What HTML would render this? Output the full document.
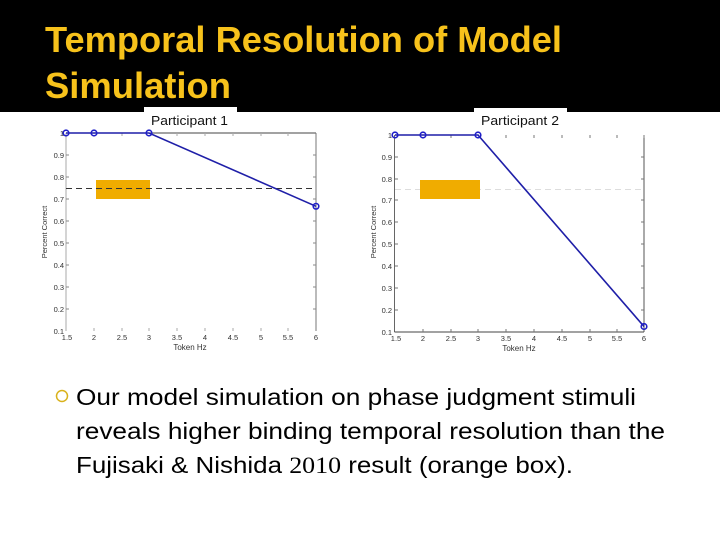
<!DOCTYPE html>
<html>
<head>
<meta charset="utf-8">
<style>
html,body{margin:0;padding:0;background:#fff;}
svg{display:block;}
</style>
</head>
<body>
<svg width="720" height="540" viewBox="0 0 720 540" xmlns="http://www.w3.org/2000/svg">
  <rect x="0" y="0" width="720" height="540" fill="#ffffff"/>
  <!-- header band -->
  <rect x="0" y="0" width="720" height="112" fill="#000000"/>
  <text x="45" y="52" font-family="Liberation Sans, sans-serif" font-weight="bold" font-size="36" fill="#F7C21B" textLength="517" lengthAdjust="spacingAndGlyphs">Temporal Resolution of Model</text>
  <text x="45" y="98" font-family="Liberation Sans, sans-serif" font-weight="bold" font-size="36" fill="#F7C21B" textLength="186" lengthAdjust="spacingAndGlyphs">Simulation</text>

  <!-- title boxes -->
  <rect x="144" y="107" width="93" height="22" fill="#ffffff"/>
  <text x="151" y="125" font-family="Liberation Sans, sans-serif" font-size="12.5" fill="#111" textLength="77" lengthAdjust="spacingAndGlyphs">Participant 1</text>
  <rect x="474" y="108" width="93" height="22" fill="#ffffff"/>
  <text x="481" y="125" font-family="Liberation Sans, sans-serif" font-size="12.5" fill="#111" textLength="78" lengthAdjust="spacingAndGlyphs">Participant 2</text>

  <!-- ================= CHART 1 ================= -->
  <g font-family="Liberation Sans, sans-serif" font-size="7.5" fill="#333">
    <!-- frame -->
    <line x1="66" y1="133" x2="66" y2="331" stroke="#aaa" stroke-width="1"/>
    <line x1="66" y1="133" x2="316" y2="133" stroke="#444" stroke-width="1"/>
    <line x1="316" y1="133" x2="316" y2="331" stroke="#777" stroke-width="1"/>
    <!-- y ticks -->
    <g stroke="#888" stroke-width="1">
      <line x1="66" y1="155" x2="69" y2="155"/><line x1="313" y1="155" x2="316" y2="155"/>
      <line x1="66" y1="177" x2="69" y2="177"/><line x1="313" y1="177" x2="316" y2="177"/>
      <line x1="66" y1="199" x2="69" y2="199"/><line x1="313" y1="199" x2="316" y2="199"/>
      <line x1="66" y1="221" x2="69" y2="221"/><line x1="313" y1="221" x2="316" y2="221"/>
      <line x1="66" y1="243" x2="69" y2="243"/><line x1="313" y1="243" x2="316" y2="243"/>
      <line x1="66" y1="265" x2="69" y2="265"/><line x1="313" y1="265" x2="316" y2="265"/>
      <line x1="66" y1="287" x2="69" y2="287"/><line x1="313" y1="287" x2="316" y2="287"/>
      <line x1="66" y1="309" x2="69" y2="309"/><line x1="313" y1="309" x2="316" y2="309"/>
    </g>
    <!-- x ticks (bottom, top) -->
    <g stroke="#aaa" stroke-width="1">
      <line x1="94" y1="328" x2="94" y2="331"/><line x1="122" y1="328" x2="122" y2="331"/>
      <line x1="149" y1="328" x2="149" y2="331"/><line x1="177" y1="328" x2="177" y2="331"/>
      <line x1="205" y1="328" x2="205" y2="331"/><line x1="233" y1="328" x2="233" y2="331"/>
      <line x1="261" y1="328" x2="261" y2="331"/><line x1="288" y1="328" x2="288" y2="331"/>
      <line x1="122" y1="133" x2="122" y2="136"/><line x1="177" y1="133" x2="177" y2="136"/>
      <line x1="205" y1="133" x2="205" y2="136"/><line x1="233" y1="133" x2="233" y2="136"/>
      <line x1="261" y1="133" x2="261" y2="136"/><line x1="288" y1="133" x2="288" y2="136"/>
    </g>
    <!-- y labels -->
    <g text-anchor="end">
      <text x="64" y="136">1</text>
      <text x="64" y="158">0.9</text>
      <text x="64" y="180">0.8</text>
      <text x="64" y="202">0.7</text>
      <text x="64" y="224">0.6</text>
      <text x="64" y="246">0.5</text>
      <text x="64" y="268">0.4</text>
      <text x="64" y="290">0.3</text>
      <text x="64" y="312">0.2</text>
      <text x="64" y="334">0.1</text>
    </g>
    <!-- x labels -->
    <g text-anchor="middle">
      <text x="67" y="340">1.5</text>
      <text x="94" y="340">2</text>
      <text x="122" y="340">2.5</text>
      <text x="149" y="340">3</text>
      <text x="177" y="340">3.5</text>
      <text x="205" y="340">4</text>
      <text x="233" y="340">4.5</text>
      <text x="261" y="340">5</text>
      <text x="288" y="340">5.5</text>
      <text x="316" y="340">6</text>
    </g>
    <text x="190" y="350" text-anchor="middle" font-size="8">Token Hz</text>
    <text x="0" y="0" text-anchor="middle" font-size="7.5" transform="translate(47,232) rotate(-90)">Percent Correct</text>
    <!-- orange box & dashed line -->
    <rect x="96" y="180" width="54" height="19" fill="#F0AC00"/>
    <line x1="66" y1="188.5" x2="316" y2="188.5" stroke="#333" stroke-width="1" stroke-dasharray="6,4"/>
    <!-- series -->
    <polyline points="66,133 94,133 149,133 316,206.3" fill="none" stroke="#1f1fa8" stroke-width="1.6"/>
    <g fill="none" stroke="#2020c8" stroke-width="1.6">
      <circle cx="66" cy="133" r="2.8"/>
      <circle cx="94" cy="133" r="2.8"/>
      <circle cx="149" cy="133" r="2.8"/>
      <circle cx="316" cy="206.3" r="2.8"/>
    </g>
  </g>

  <!-- ================= CHART 2 ================= -->
  <g font-family="Liberation Sans, sans-serif" font-size="7.5" fill="#333">
    <line x1="394.5" y1="135" x2="394.5" y2="332" stroke="#666" stroke-width="1"/>
    <line x1="394.5" y1="332" x2="644" y2="332" stroke="#444" stroke-width="1"/>
    <line x1="644" y1="135" x2="644" y2="332" stroke="#555" stroke-width="1"/>
    <g stroke="#777" stroke-width="1">
      <line x1="395" y1="157" x2="398" y2="157"/><line x1="641" y1="157" x2="644" y2="157"/>
      <line x1="395" y1="179" x2="398" y2="179"/><line x1="641" y1="179" x2="644" y2="179"/>
      <line x1="395" y1="200" x2="398" y2="200"/><line x1="641" y1="200" x2="644" y2="200"/>
      <line x1="395" y1="222" x2="398" y2="222"/><line x1="641" y1="222" x2="644" y2="222"/>
      <line x1="395" y1="244" x2="398" y2="244"/><line x1="641" y1="244" x2="644" y2="244"/>
      <line x1="395" y1="266" x2="398" y2="266"/><line x1="641" y1="266" x2="644" y2="266"/>
      <line x1="395" y1="288" x2="398" y2="288"/><line x1="641" y1="288" x2="644" y2="288"/>
      <line x1="395" y1="310" x2="398" y2="310"/><line x1="641" y1="310" x2="644" y2="310"/>
    </g>
    <g stroke="#777" stroke-width="1">
      <line x1="423" y1="329" x2="423" y2="332"/><line x1="451" y1="329" x2="451" y2="332"/>
      <line x1="478" y1="329" x2="478" y2="332"/><line x1="506" y1="329" x2="506" y2="332"/>
      <line x1="534" y1="329" x2="534" y2="332"/><line x1="562" y1="329" x2="562" y2="332"/>
      <line x1="590" y1="329" x2="590" y2="332"/><line x1="617" y1="329" x2="617" y2="332"/>
      <line x1="451" y1="135" x2="451" y2="138"/><line x1="506" y1="135" x2="506" y2="138"/>
      <line x1="534" y1="135" x2="534" y2="138"/><line x1="562" y1="135" x2="562" y2="138"/>
      <line x1="590" y1="135" x2="590" y2="138"/><line x1="617" y1="135" x2="617" y2="138"/>
      <line x1="644" y1="135" x2="644" y2="138"/>
    </g>
    <g text-anchor="end">
      <text x="392" y="138">1</text>
      <text x="392" y="160">0.9</text>
      <text x="392" y="182">0.8</text>
      <text x="392" y="203">0.7</text>
      <text x="392" y="225">0.6</text>
      <text x="392" y="247">0.5</text>
      <text x="392" y="269">0.4</text>
      <text x="392" y="291">0.3</text>
      <text x="392" y="313">0.2</text>
      <text x="392" y="335">0.1</text>
    </g>
    <g text-anchor="middle">
      <text x="396" y="341">1.5</text>
      <text x="423" y="341">2</text>
      <text x="451" y="341">2.5</text>
      <text x="478" y="341">3</text>
      <text x="506" y="341">3.5</text>
      <text x="534" y="341">4</text>
      <text x="562" y="341">4.5</text>
      <text x="590" y="341">5</text>
      <text x="617" y="341">5.5</text>
      <text x="644" y="341">6</text>
    </g>
    <text x="519" y="351" text-anchor="middle" font-size="8">Token Hz</text>
    <text x="0" y="0" text-anchor="middle" font-size="7.5" transform="translate(376,232) rotate(-90)">Percent Correct</text>
    <line x1="395" y1="189.5" x2="644" y2="189.5" stroke="#ddd" stroke-width="1" stroke-dasharray="6,4"/>
    <rect x="420" y="180" width="60" height="19" fill="#F0AC00"/>
    <polyline points="395,135 423,135 478,135 644,326.5" fill="none" stroke="#1f1fa8" stroke-width="1.6"/>
    <g fill="none" stroke="#2020c8" stroke-width="1.6">
      <circle cx="395" cy="135" r="2.8"/>
      <circle cx="423" cy="135" r="2.8"/>
      <circle cx="478" cy="135" r="2.8"/>
      <circle cx="644" cy="326.5" r="2.8"/>
    </g>
  </g>

  <!-- bullet text -->
  <circle cx="62" cy="396" r="5.5" fill="none" stroke="#D9B21C" stroke-width="1.5"/>
  <g font-family="Liberation Sans, sans-serif" font-size="23" fill="#000">
    <text x="76" y="405" textLength="560" lengthAdjust="spacingAndGlyphs">Our model simulation on phase judgment stimuli</text>
    <text x="76" y="439" textLength="589" lengthAdjust="spacingAndGlyphs">reveals higher binding temporal resolution than the</text>
    <text x="76" y="473" textLength="497" lengthAdjust="spacingAndGlyphs">Fujisaki &amp; Nishida <tspan font-family="Liberation Serif, serif">2010</tspan> result (orange box).</text>
  </g>
</svg>
</body>
</html>
